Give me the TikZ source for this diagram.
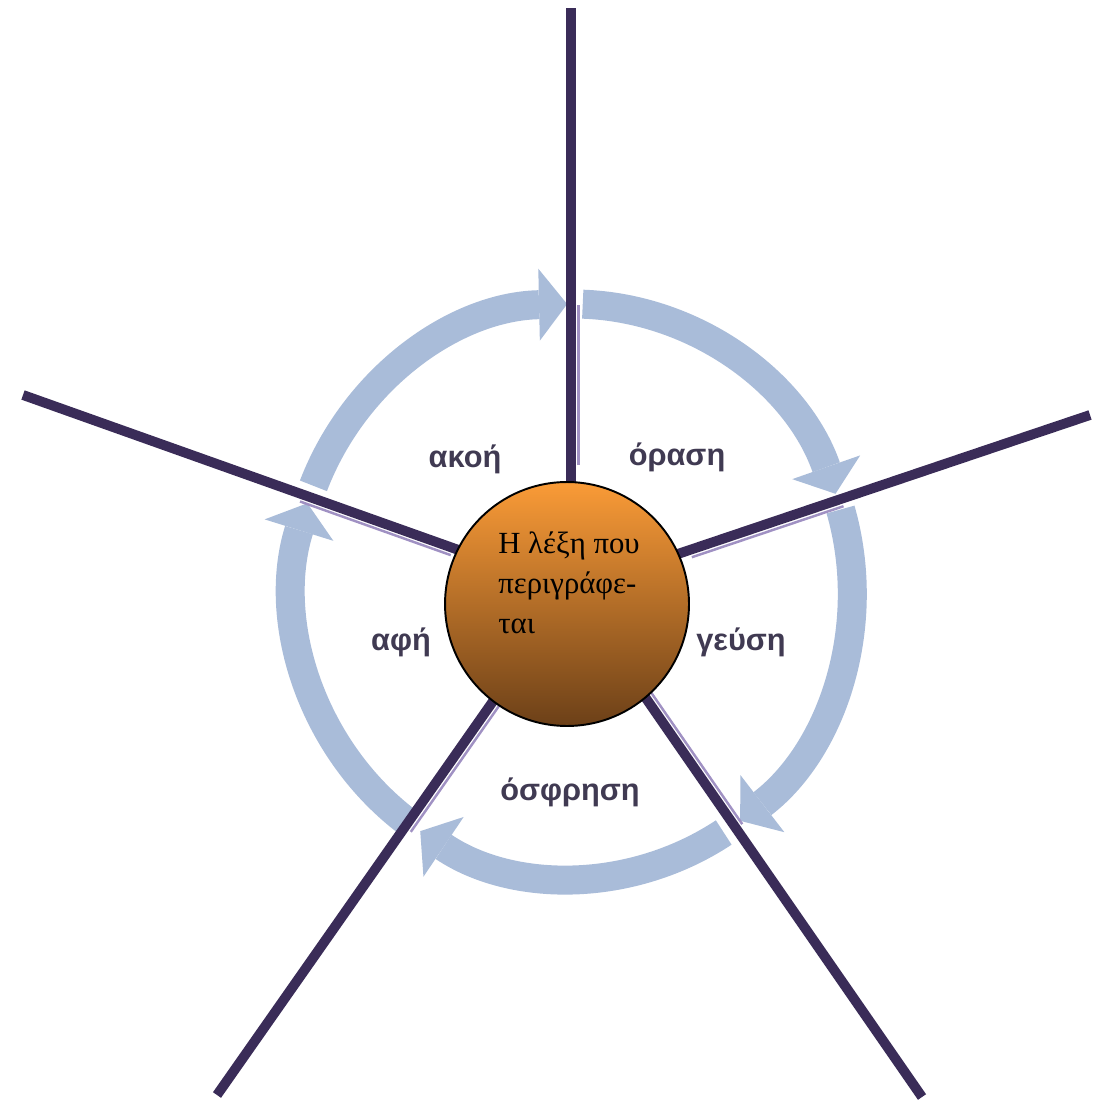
\documentclass[tikz,border=0pt]{standalone}
\usepackage{fontspec}
\usepackage{tikz}
\usetikzlibrary{arrows.meta,calc}
\setmainfont{Liberation Serif}
\newfontfamily\sensefont{Liberation Sans}
\definecolor{spokecol}{RGB}{58,44,88}
\definecolor{spokelight}{RGB}{160,145,195}
\definecolor{ringcol}{RGB}{169,188,217}
\definecolor{labelcol}{RGB}{64,58,82}
\definecolor{wordtop}{RGB}{250,155,55}
\definecolor{wordbot}{RGB}{108,64,24}
\tikzset{
  spoke/.style={draw=spokecol, line width=5.6pt},
  spokeedge/.style={draw=spokelight, line width=1.4pt},
  ringarrow/.style={draw=ringcol, line width=16.5pt,
    -{Triangle[width=41pt,length=16pt,line width=0pt]}},
  sense/.style={font=\sensefont\bfseries\fontsize{17.5}{20}\selectfont,
    text=labelcol, anchor=base},
  wordcircle/.style={circle, draw=black, line width=1.1pt, minimum size=4.88cm,
    inner sep=0pt, top color=wordtop, bottom color=wordbot},
  wordtext/.style={align=left, inner sep=0pt,
    font=\fontsize{17.5}{22.8}\selectfont}
}

\begin{document}
\begin{tikzpicture}[x=0.02cm, y=0.02cm]
  \useasboundingbox (0,-1101) rectangle (1104,0);
  \coordinate (hub) at (571,-590);
  \coordinate (ringc) at (573,-591);
  \coordinate (spokeN) at (571,-8);
  \coordinate (spokeNE) at (1090,-415);
  \coordinate (spokeNW) at (23,-395);
  \coordinate (spokeSW) at (217,-1095);
  \coordinate (spokeSE) at (922,-1097);

  % ring of arrows, clockwise
  \draw[ringarrow] ($(ringc)+(158.5:279 and 287)$) arc[start angle=158.5, end angle=91.2, x radius=279, y radius=287];
  \draw[ringarrow] ($(ringc)+(88:279 and 287)$) arc[start angle=88, end angle=19.8, x radius=279, y radius=287];
  \draw[ringarrow] ($(ringc)+(16.5:279 and 287)$) arc[start angle=16.5, end angle=-53.2, x radius=279, y radius=287];
  \draw[ringarrow] ($(ringc)+(-57.3:279 and 287)$) arc[start angle=-57.3, end angle=-123.2, x radius=279, y radius=287];
  \draw[ringarrow] ($(ringc)+(-127:279 and 287)$) arc[start angle=-127, end angle=-197.8, x radius=279, y radius=287];

  % spokes
  \draw[spoke] (hub) -- (spokeN);
  \draw[spoke] (hub) -- (spokeNE);
  \draw[spoke] (hub) -- (spokeNW);
  \draw[spoke] (hub) -- (spokeSW);
  \draw[spoke] (hub) -- (spokeSE);
  \draw[spokeedge] ($(hub)+(0:7.5)+(90:125)$) -- ($(hub)+(0:7.5)+(90:285)$);
  \draw[spokeedge] ($(hub)+(-71.4:7.5)+(18.6:125)$) -- ($(hub)+(-71.4:7.5)+(18.6:285)$);
  \draw[spokeedge] ($(hub)+(250.4:7.5)+(160.4:125)$) -- ($(hub)+(250.4:7.5)+(160.4:285)$);
  \draw[spokeedge] ($(hub)+(325:7.5)+(235:125)$) -- ($(hub)+(325:7.5)+(235:290)$);
  \draw[spokeedge] ($(hub)+(34.7:7.5)+(304.7:125)$) -- ($(hub)+(34.7:7.5)+(304.7:290)$);

  \node[wordcircle] (word) at (567,-604) {};
  \node[wordtext] (wordtext) at ([shift={(2,21)}]word.center) {Η λέξη που\\περιγράφε-\\ται};

  \node[sense] (hearing) at (465,-467) {ακοή};
  \node[sense] (sight) at (677,-465) {όραση};
  \node[sense] (touch) at (401,-650) {αφή};
  \node[sense] (taste) at (741,-650) {γεύση};
  \node[sense] (smell) at (570,-800) {όσφρηση};
\end{tikzpicture}
\end{document}
